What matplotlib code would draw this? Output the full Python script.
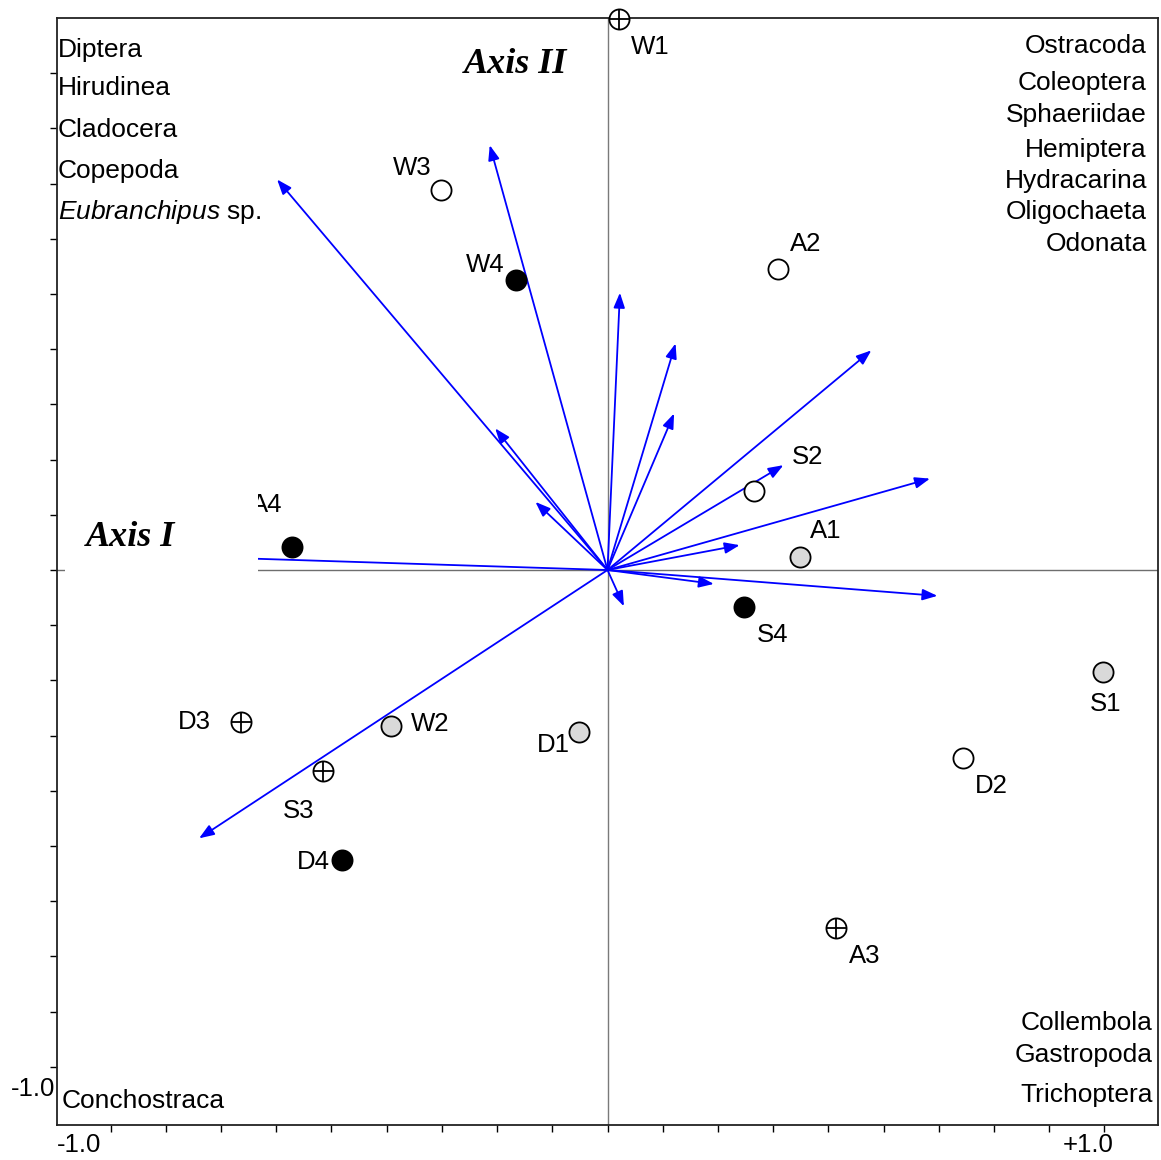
import numpy as np
import matplotlib
matplotlib.use("Agg")
import matplotlib.pyplot as plt
from matplotlib.patches import Rectangle

plt.rcParams['font.family'] = ['Liberation Sans', 'DejaVu Sans']
plt.rcParams['mathtext.fontset'] = 'custom'
plt.rcParams['mathtext.rm'] = 'Liberation Sans'
plt.rcParams['mathtext.it'] = 'Liberation Sans:italic'

# site scores (axis I, axis II)
site_names = ['W1', 'W3', 'W4', 'A2', 'S2', 'A1', 'A4', 'S4',
              'S1', 'D2', 'D3', 'W2', 'D1', 'S3', 'D4', 'A3']
site_x = [0.023, -0.335, -0.184, 0.343, 0.295, 0.387, -0.635, 0.275,
          0.998, 0.716, -0.738, -0.436, -0.057, -0.573, -0.534, 0.460]
site_y = [1.109, 0.765, 0.584, 0.606, 0.160, 0.026, 0.046, -0.074,
          -0.205, -0.379, -0.306, -0.314, -0.326, -0.404, -0.583, -0.720]
site_kind = ['cross', 'open', 'black', 'open', 'open', 'grey', 'black', 'black',
             'grey', 'open', 'cross', 'grey', 'grey', 'cross', 'black', 'cross']

# taxon vectors (arrow tips)
vec_x = [-0.665, -0.237, 0.025, 0.137, 0.134, 0.531, -0.226, -0.145,
         0.354, 0.649, 0.266, 0.214, 0.664, 0.033, -0.822, -0.780]
vec_y = [0.786, 0.855, 0.558, 0.456, 0.315, 0.442, 0.285, 0.137,
         0.211, 0.184, 0.050, -0.028, -0.052, -0.073, -0.540, 0.025]

taxa_top_left = ['Diptera', 'Hirudinea', 'Cladocera', 'Copepoda', 'Eubranchipus sp.']
taxa_top_right = ['Ostracoda', 'Coleoptera', 'Sphaeriidae', 'Hemiptera',
                  'Hydracarina', 'Oligochaeta', 'Odonata']
taxa_bottom_right = ['Collembola', 'Gastropoda', 'Trichoptera']
taxa_bottom_left = ['Conchostraca']

# label offsets in pixels (dx, dy) from each site symbol
label_off = {'W1': (31, -28), 'W3': (-29, 22), 'W4': (-31, 15), 'A2': (28, 25),
             'S2': (53, 34), 'A1': (26, 26), 'A4': (-25, 42), 'S4': (28, -28),
             'S1': (2, -32), 'D2': (28, -28), 'D3': (-46, 0), 'W2': (39, 2),
             'D1': (-26, -13), 'S3': (-24, -40), 'D4': (-29, -2), 'A3': (29, -28)}

fig = plt.figure(figsize=(11.61, 11.60), dpi=100)
ax = fig.add_axes([57 / 1161, 35 / 1160, 1101 / 1161, 1107 / 1160])
ax.set_xlim(-1.108, 1.108)
ax.set_ylim(-1.117, 1.111)

ax.axhline(0, color='#6e6e6e', lw=1.0, zorder=1)
ax.axvline(0, color='#7a7a7a', lw=1.0, zorder=1)

for x, y in zip(vec_x, vec_y):
    ax.annotate('', xy=(x, y), xytext=(0, 0),
                arrowprops=dict(arrowstyle='-|>,head_length=0.45,head_width=0.17',
                                color='#0000ff', lw=1.3, mutation_scale=20,
                                shrinkA=0, shrinkB=0),
                zorder=2)

face = {'open': 'white', 'grey': '#d9d9d9', 'black': 'black', 'cross': 'white'}
for name, x, y, kind in zip(site_names, site_x, site_y, site_kind):
    ax.plot(x, y, 'o', ms=14.5, mfc=face[kind], mec='black', mew=1.3,
            zorder=3, clip_on=False)
    if kind == 'cross':
        ax.plot(x, y, '+', ms=14.5, mec='black', mew=1.3, zorder=4, clip_on=False)
    dx, dy = label_off[name]
    ax.annotate(name, (x, y), xytext=(dx, dy), textcoords='offset pixels',
                ha='center', va='center', fontsize=18.5, zorder=5)

# white box behind the Axis I title
ax.add_patch(Rectangle((8 / 1101, 0.496), 193 / 1101, 0.078,
                       transform=ax.transAxes, facecolor='white',
                       edgecolor='none', zorder=6))
ax.text(0.067, 0.531, 'Axis I', transform=ax.transAxes, ha='center', va='center',
        family='Liberation Serif', fontsize=26, fontweight='bold',
        fontstyle='italic', zorder=7)
ax.text(0.416, 0.958, 'Axis II', transform=ax.transAxes, ha='center', va='center',
        family='Liberation Serif', fontsize=26, fontweight='bold',
        fontstyle='italic', zorder=7)

# taxa lists in the corners
tl_y = [0.971, 0.937, 0.899, 0.862, 0.825]
for name, y in zip(taxa_top_left, tl_y):
    if name.endswith(' sp.'):
        name = r'$\it{Eubranchipus}$ sp.'
    ax.text(0.001, y, name, transform=ax.transAxes, ha='left', va='center',
            fontsize=19)
tr_y = [0.975, 0.941, 0.912, 0.881, 0.853, 0.825, 0.796]
for name, y in zip(taxa_top_right, tr_y):
    ax.text(0.990, y, name, transform=ax.transAxes, ha='right', va='center',
            fontsize=19)
br_y = [0.092, 0.063, 0.027]
for name, y in zip(taxa_bottom_right, br_y):
    ax.text(0.995, y, name, transform=ax.transAxes, ha='right', va='center',
            fontsize=19)
ax.text(0.0045, 0.022, taxa_bottom_left[0], transform=ax.transAxes,
        ha='left', va='center', fontsize=19)

ticks = np.arange(-9, 10) / 9
ax.set_xticks(ticks)
ax.set_yticks(ticks)
ax.set_xticklabels([])
ax.set_yticklabels([])
ax.tick_params(direction='out', length=5, width=1.0, color='black')
for sp in ax.spines.values():
    sp.set_linewidth(1.3)
    sp.set_color('#222222')

ax.text(0.0, -0.018, '-1.0', transform=ax.transAxes, ha='left', va='center',
        fontsize=18.5)
ax.text(1.018, -0.018, '+1.0', transform=ax.get_xaxis_transform(),
        ha='right', va='center', fontsize=18.5)
ax.text(-0.002, -1.045, '-1.0', transform=ax.get_yaxis_transform(),
        ha='right', va='center', fontsize=18.5)

fig.savefig('out.png', dpi=100)
